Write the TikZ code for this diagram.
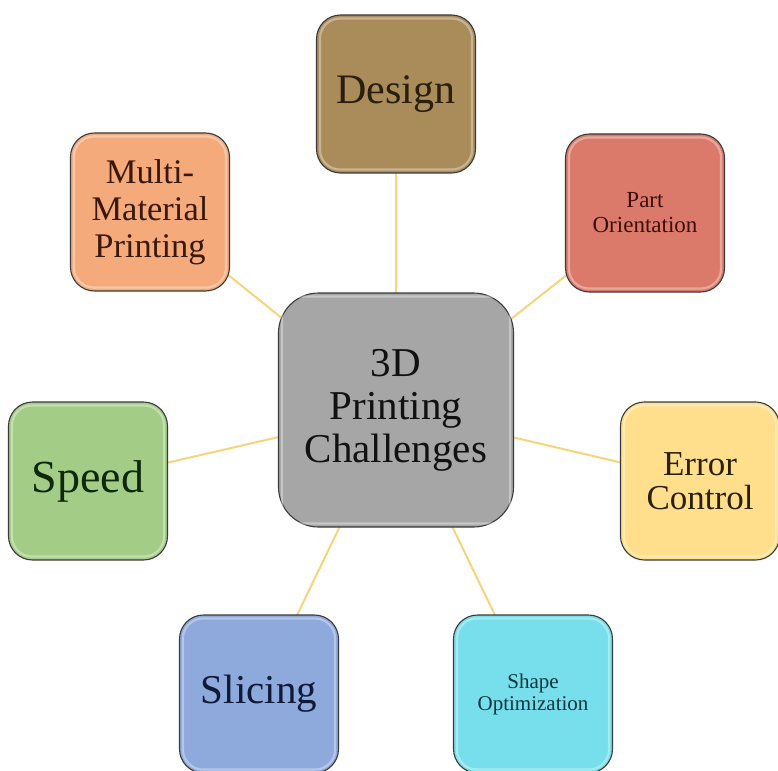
\documentclass[tikz,border=0pt]{standalone}
\usepackage{fontspec}
\setmainfont{Liberation Serif}
\usetikzlibrary{backgrounds}
\definecolor{boxline}{HTML}{3A3A3A}
\definecolor{linkcol}{HTML}{F6D47C}
\definecolor{ccenter}{HTML}{A6A6A6}
\definecolor{cdesign}{HTML}{AA8C5B}
\definecolor{cpart}{HTML}{DB7A6B}
\definecolor{cerror}{HTML}{FFDF8C}
\definecolor{cshape}{HTML}{77DEEB}
\definecolor{cslice}{HTML}{8EA9DC}
\definecolor{cspeed}{HTML}{A3CD86}
\definecolor{cmulti}{HTML}{F4AA7B}
\definecolor{tdesign}{HTML}{2A1E0C}
\definecolor{tpart}{HTML}{3C0E08}
\definecolor{terror}{HTML}{2A2008}
\definecolor{tshape}{HTML}{0C363C}
\definecolor{tslice}{HTML}{0E1A38}
\definecolor{tspeed}{HTML}{0E280A}
\definecolor{tmulti}{HTML}{3A180A}
\definecolor{tcenter}{HTML}{111111}
\begin{document}
\begin{tikzpicture}[x=1pt,y=-1pt,
  box/.style={draw=boxline, line width=1.1pt, rounded corners=24pt,
    minimum width=159pt, minimum height=158pt, inner sep=0pt, align=center},
  link/.style={draw=linkcol, line width=2pt},
  gloss/.style={draw=white, line width=2.2pt, opacity=0.35, rounded corners=20pt}]
\useasboundingbox (0,0) rectangle (778,770);

\node[box, fill=ccenter, minimum width=235pt, minimum height=234pt,
  rounded corners=40pt, font=\fontsize{41}{43}\selectfont, text=tcenter]
  (c) at (396,410) {3D\\Printing\\Challenges};
\node[box, fill=cdesign, font=\fontsize{42}{44}\selectfont, text=tdesign]
  (d) at (396,94) {Design};
\node[box, fill=cpart, font=\fontsize{23}{25}\selectfont, text=tpart]
  (p) at (645,213) {Part\\Orientation};
\node[box, fill=cerror, font=\fontsize{35}{34}\selectfont, text=terror]
  (e) at (700,481) {Error\\Control};
\node[box, fill=cshape, font=\fontsize{21}{22}\selectfont, text=tshape]
  (s) at (533,694) {Shape\\Optimization};
\node[box, fill=cslice, font=\fontsize{41}{43}\selectfont, text=tslice]
  (sl) at (259,694) {Slicing};
\node[box, fill=cspeed, font=\fontsize{46}{48}\selectfont, text=tspeed]
  (sp) at (88,481) {Speed};
\node[box, fill=cmulti, font=\fontsize{34.5}{37}\selectfont, text=tmulti]
  (m) at (150,212) {Multi-\\Material\\Printing};

\foreach \n in {c,d,p,e,s,sl,sp,m}
  \draw[gloss] ([shift={(4,4)}]\n.north west) rectangle ([shift={(-4,-4)}]\n.south east);

\begin{scope}[on background layer]
  \fill[white] (0,0) rectangle (778,770);
  \foreach \n in {d,p,e,s,sl,sp,m}
    \draw[link] (c.center) -- (\n.center);
\end{scope}
\end{tikzpicture}
\end{document}
